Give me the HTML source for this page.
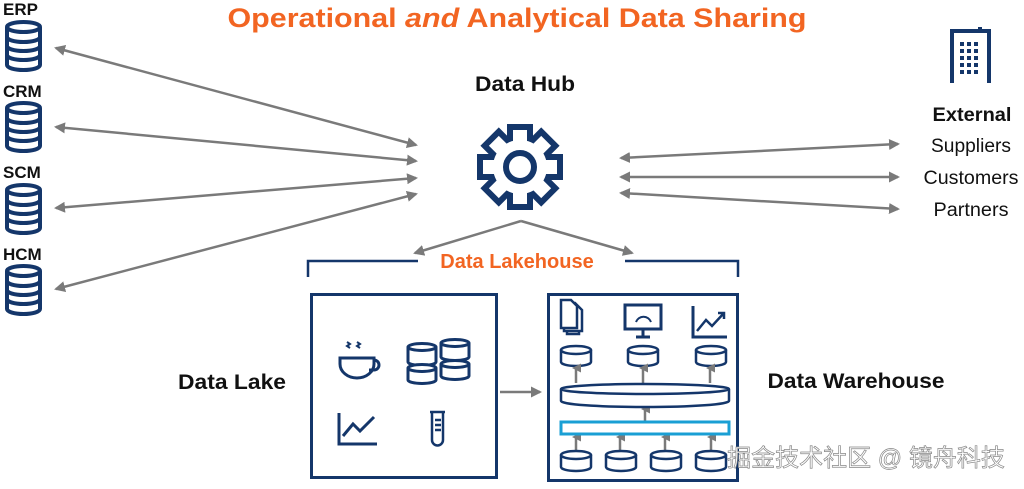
<!DOCTYPE html>
<html><head><meta charset="utf-8"><style>
html,body{margin:0;padding:0;background:#fff;}
svg{display:block;font-family:"Liberation Sans",Arial,sans-serif;}
</style></head><body>
<svg width="1024" height="489" viewBox="0 0 1024 489" xmlns="http://www.w3.org/2000/svg">
<defs>
<marker id="ah" markerWidth="11" markerHeight="11" refX="9" refY="5.5" orient="auto-start-reverse" markerUnits="userSpaceOnUse">
<path d="M0,0 L11,5.5 L0,11 z" fill="#7a7a7a"/></marker>
<marker id="ah2" markerWidth="9" markerHeight="9" refX="4.5" refY="4" orient="auto" markerUnits="userSpaceOnUse">
<path d="M0,9 L4.5,0 L9,9 z" fill="#7a7a7a"/></marker>
<g id="db">
<path d="M2,6 L2,44 A16.5,5 0 0 0 35,44 L35,6" fill="none" stroke="#14366a" stroke-width="4"/>
<ellipse cx="18.5" cy="6" rx="16.5" ry="5" fill="#fff" stroke="#14366a" stroke-width="4"/>
<path d="M2,16 A16.5,5 0 0 0 35,16 M2,25 A16.5,5 0 0 0 35,25 M2,34 A16.5,5 0 0 0 35,34" fill="none" stroke="#14366a" stroke-width="4"/>
</g>
<g id="sdb">
<path d="M1,4 L1,16 A15,4 0 0 0 31,16 L31,4" fill="#fff" stroke="#14366a" stroke-width="2.5"/>
<ellipse cx="16" cy="4" rx="15" ry="4" fill="#fff" stroke="#14366a" stroke-width="2.5"/>
</g>
</defs>

<text x="517" y="27" text-anchor="middle" font-size="27" font-weight="bold" fill="#f26522" textLength="579" lengthAdjust="spacingAndGlyphs">Operational <tspan font-style="italic">and</tspan> Analytical Data Sharing</text>

<g font-weight="bold" font-size="17" fill="#111">
<text x="3" y="15">ERP</text><text x="3" y="97">CRM</text><text x="3" y="178">SCM</text><text x="3" y="260">HCM</text>
</g>
<use href="#db" x="5" y="21"/>
<use href="#db" x="5" y="102"/>
<use href="#db" x="5" y="184"/>
<use href="#db" x="5" y="265"/>

<g stroke="#7a7a7a" stroke-width="2.5" marker-start="url(#ah)" marker-end="url(#ah)">
<line x1="56" y1="48" x2="416" y2="145"/>
<line x1="56" y1="127" x2="416" y2="161"/>
<line x1="56" y1="208" x2="416" y2="178"/>
<line x1="56" y1="289" x2="416" y2="194"/>
<line x1="621" y1="158" x2="898" y2="144"/>
<line x1="621" y1="177" x2="898" y2="177"/>
<line x1="621" y1="193" x2="898" y2="209"/>
</g>
<g stroke="#7a7a7a" stroke-width="2.5" marker-end="url(#ah)">
<line x1="521" y1="221" x2="415" y2="253"/>
<line x1="521" y1="221" x2="632" y2="253"/>
<line x1="500" y1="392" x2="540" y2="392"/>
</g>

<text x="525" y="91" text-anchor="middle" font-size="21" font-weight="bold" fill="#111" textLength="100" lengthAdjust="spacingAndGlyphs">Data Hub</text>

<!-- gear -->
<g transform="translate(520,167)">
<g fill="#14366a" stroke="#14366a" stroke-width="12" stroke-linejoin="miter">
<circle r="27"/>
<rect x="-7" y="-37" width="14" height="14"/>
<rect x="-7" y="-37" width="14" height="14" transform="rotate(45)"/>
<rect x="-7" y="-37" width="14" height="14" transform="rotate(90)"/>
<rect x="-7" y="-37" width="14" height="14" transform="rotate(135)"/>
<rect x="-7" y="-37" width="14" height="14" transform="rotate(180)"/>
<rect x="-7" y="-37" width="14" height="14" transform="rotate(225)"/>
<rect x="-7" y="-37" width="14" height="14" transform="rotate(270)"/>
<rect x="-7" y="-37" width="14" height="14" transform="rotate(315)"/>
</g>
<g fill="#fff">
<circle r="27"/>
<rect x="-7" y="-37" width="14" height="14"/>
<rect x="-7" y="-37" width="14" height="14" transform="rotate(45)"/>
<rect x="-7" y="-37" width="14" height="14" transform="rotate(90)"/>
<rect x="-7" y="-37" width="14" height="14" transform="rotate(135)"/>
<rect x="-7" y="-37" width="14" height="14" transform="rotate(180)"/>
<rect x="-7" y="-37" width="14" height="14" transform="rotate(225)"/>
<rect x="-7" y="-37" width="14" height="14" transform="rotate(270)"/>
<rect x="-7" y="-37" width="14" height="14" transform="rotate(315)"/>
</g>
<circle r="14" fill="none" stroke="#14366a" stroke-width="6"/>
</g>

<!-- building -->
<g>
<path d="M952,83 L952,31 L989,31 L989,83" fill="none" stroke="#14366a" stroke-width="4"/>
<rect x="978" y="27" width="4" height="5" fill="#14366a"/>
<g fill="#14366a">
<rect x="960" y="42" width="4" height="4"/><rect x="967" y="42" width="4" height="4"/><rect x="974" y="42" width="4" height="4"/>
<rect x="960" y="49" width="4" height="4"/><rect x="967" y="49" width="4" height="4"/><rect x="974" y="49" width="4" height="4"/>
<rect x="960" y="56" width="4" height="4"/><rect x="967" y="56" width="4" height="4"/><rect x="974" y="56" width="4" height="4"/>
<rect x="960" y="63" width="4" height="4"/><rect x="967" y="63" width="4" height="4"/><rect x="974" y="63" width="4" height="4"/>
<rect x="960" y="70" width="4" height="4"/><rect x="967" y="70" width="4" height="4"/><rect x="974" y="70" width="4" height="4"/>
</g>
</g>
<text x="972" y="121" text-anchor="middle" font-size="19" font-weight="bold" fill="#111" textLength="79" lengthAdjust="spacingAndGlyphs">External</text>
<g font-size="19" fill="#111" text-anchor="middle">
<text x="971" y="152" textLength="80" lengthAdjust="spacingAndGlyphs">Suppliers</text><text x="971" y="184" textLength="95" lengthAdjust="spacingAndGlyphs">Customers</text><text x="971" y="216" textLength="75" lengthAdjust="spacingAndGlyphs">Partners</text>
</g>

<!-- bracket -->
<path d="M308,277 L308,261 L418,261 M625,261 L738,261 L738,277" fill="none" stroke="#14366a" stroke-width="2.5"/>
<text x="517" y="268" text-anchor="middle" font-size="20" font-weight="bold" fill="#f26522">Data Lakehouse</text>

<!-- data lake box -->
<rect x="311.5" y="294.5" width="185" height="183" fill="none" stroke="#14366a" stroke-width="3"/>
<g fill="none" stroke="#14366a" stroke-width="3">
<path d="M340,358 L374,358 L374,364 A17,14 0 0 1 340,364 Z"/>
<path d="M374,360 a5,5 0 0 1 0,10 L369,370"/>
<path d="M347,342 l3,2 l-3,2 l3,2 M357,342 l3,2 l-3,2 l3,2" stroke-width="2"/>
<path d="M339,413 L339,444 L377,444"/>
<path d="M343,436 L353,424 L360,431 L374,417"/>
<path d="M430,412 L445,412 M432,412 L432,440 A5.5,5.5 0 0 0 443,440 L443,412 M435,420 L441,420 M435,425 L441,425 M435,430 L441,430" stroke-width="2.5"/>
</g>
<g fill="#fff" stroke="#14366a" stroke-width="3">
<path d="M408,347 L408,362 A14,3.5 0 0 0 436,362 L436,347"/><ellipse cx="422" cy="347" rx="14" ry="3.5"/>
<path d="M441,343 L441,357 A14,3.5 0 0 0 469,357 L469,343"/><ellipse cx="455" cy="343" rx="14" ry="3.5"/>
<path d="M408,368 L408,380 A14,3.5 0 0 0 436,380 L436,368"/><ellipse cx="422" cy="368" rx="14" ry="3.5"/>
<path d="M441,364 L441,376 A14,3.5 0 0 0 469,376 L469,364"/><ellipse cx="455" cy="364" rx="14" ry="3.5"/>
</g>
<text x="232" y="389" text-anchor="middle" font-size="21" font-weight="bold" fill="#111" textLength="108" lengthAdjust="spacingAndGlyphs">Data Lake</text>

<!-- warehouse box -->
<rect x="548.5" y="294.5" width="189" height="186" fill="none" stroke="#14366a" stroke-width="3"/>
<g fill="#fff" stroke="#14366a" stroke-width="2.5">
<path d="M567,306 L574,306 L579,311 L579,334 L567,334 Z"/>
<path d="M564,303 L575,303 L582,310 L582,331 L564,331 Z"/>
<path d="M561,300 L571,300 L577,306 L577,328 L561,328 Z" />
</g>
<g fill="none" stroke="#14366a" stroke-width="3">
<rect x="625" y="305" width="36" height="24"/>
<path d="M643,329 L643,336 M636,337 L650,337"/>
<path d="M636,322 A8,8 0 0 1 651,322" stroke-width="2"/>
<path d="M693,306 L693,337 L727,337"/>
<path d="M697,331 L706,320 L712,326 L724,313 M718,313 L724,313 L724,319" stroke-width="2.5"/>
</g>
<use href="#sdb" x="560" y="346"/>
<use href="#sdb" x="627" y="346"/>
<use href="#sdb" x="695" y="346"/>
<g stroke="#7a7a7a" stroke-width="2.5" marker-end="url(#ah2)">
<line x1="576" y1="383" x2="576" y2="368"/>
<line x1="643" y1="383" x2="643" y2="368"/>
<line x1="710" y1="383" x2="710" y2="368"/>
<line x1="645" y1="421" x2="645" y2="409"/>
<line x1="576" y1="451" x2="576" y2="437"/>
<line x1="620" y1="451" x2="620" y2="437"/>
<line x1="665" y1="451" x2="665" y2="437"/>
<line x1="711" y1="451" x2="711" y2="437"/>
</g>
<path d="M561,389 L561,401 A84,6 0 0 0 729,401 L729,389" fill="#fff" stroke="#14366a" stroke-width="2.5"/>
<ellipse cx="645" cy="389" rx="84" ry="5" fill="#fff" stroke="#14366a" stroke-width="2.5"/>
<rect x="561" y="422" width="168" height="12" fill="#fff" stroke="#1a9fd4" stroke-width="3"/>
<use href="#sdb" x="560" y="451"/>
<use href="#sdb" x="605" y="451"/>
<use href="#sdb" x="650" y="451"/>
<use href="#sdb" x="695" y="451"/>
<text x="856" y="388" text-anchor="middle" font-size="21" font-weight="bold" fill="#111" textLength="177" lengthAdjust="spacingAndGlyphs">Data Warehouse</text>

<text x="866" y="466" text-anchor="middle" font-size="24" fill="#fff" stroke="#888" stroke-width="0.7" font-family="'Liberation Sans','Noto Sans CJK SC',sans-serif">掘金技术社区 @ 镜舟科技</text>
</svg>
</body></html>
